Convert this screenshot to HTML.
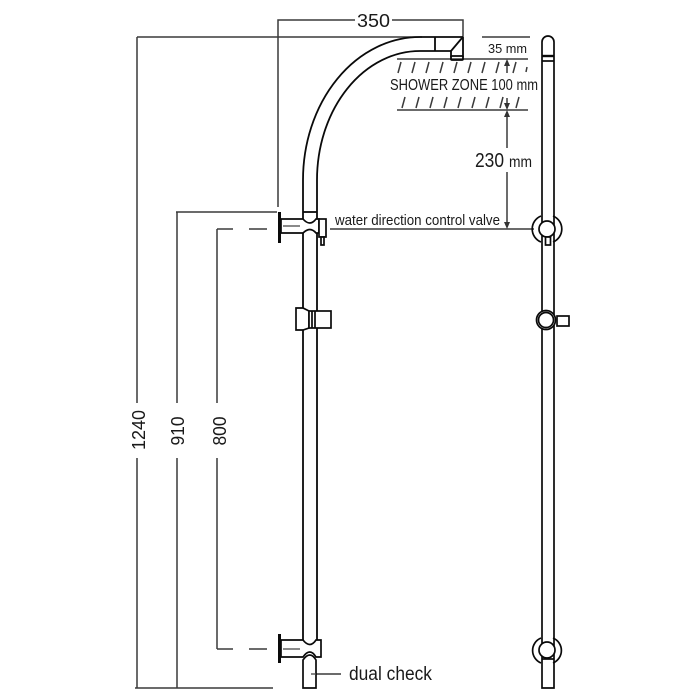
<!DOCTYPE html>
<html><head><meta charset="utf-8"><style>
html,body{margin:0;padding:0;background:#fff;}
svg{display:block;}
text{font-family:"Liberation Sans",sans-serif;fill:#1a1a1a;}
</style></head><body>
<svg width="700" height="700" viewBox="0 0 700 700" xmlns="http://www.w3.org/2000/svg">
<g stroke="#3a3a3a" stroke-width="1.5" fill="none">
  <!-- 350 dimension -->
  <polyline points="278,207 278,20 355,20"/>
  <polyline points="392,20 463,20 463,37"/>
  <!-- 1240 -->
  <line x1="137" y1="37" x2="422" y2="37"/>
  <line x1="137" y1="37" x2="137" y2="403"/>
  <line x1="137" y1="458" x2="137" y2="688"/>
  <line x1="135" y1="688" x2="273" y2="688"/>
  <!-- 910 -->
  <line x1="176" y1="212" x2="277" y2="212"/>
  <line x1="177" y1="212" x2="177" y2="403"/>
  <line x1="177" y1="458" x2="177" y2="688"/>
  <!-- 800 -->
  <line x1="217" y1="229" x2="217" y2="403"/>
  <line x1="217" y1="458" x2="217" y2="649"/>
  <line x1="217" y1="229" x2="233" y2="229"/>
  <line x1="249" y1="229" x2="267" y2="229"/>
  <line x1="217" y1="649" x2="233" y2="649"/>
  <line x1="249" y1="649" x2="267" y2="649"/>
  <!-- valve leader -->
  <line x1="330" y1="229" x2="534" y2="229"/>
  <!-- dual check leader -->
  <line x1="311" y1="674" x2="341" y2="674"/>
  <!-- shower zone lines -->
  <line x1="482" y1="37" x2="530" y2="37"/>
  <line x1="397" y1="59" x2="528" y2="59"/>
  <line x1="397" y1="110" x2="528" y2="110"/>
  <!-- hatches upper -->
  <line x1="398" y1="73" x2="401" y2="62"/>
  <line x1="412" y1="73" x2="415" y2="62"/>
  <line x1="426" y1="73" x2="429" y2="62"/>
  <line x1="440" y1="73" x2="443" y2="62"/>
  <line x1="454" y1="73" x2="457" y2="62"/>
  <line x1="468" y1="73" x2="471" y2="62"/>
  <line x1="482" y1="73" x2="485" y2="62"/>
  <line x1="496" y1="73" x2="499" y2="62"/>
  <line x1="513" y1="73" x2="516" y2="62"/>
  <line x1="526" y1="72" x2="527" y2="67"/>
  <!-- hatches lower -->
  <line x1="402" y1="108" x2="405" y2="97"/>
  <line x1="416" y1="108" x2="419" y2="97"/>
  <line x1="430" y1="108" x2="433" y2="97"/>
  <line x1="444" y1="108" x2="447" y2="97"/>
  <line x1="458" y1="108" x2="461" y2="97"/>
  <line x1="472" y1="108" x2="475" y2="97"/>
  <line x1="486" y1="108" x2="489" y2="97"/>
  <line x1="500" y1="108" x2="503" y2="97"/>
  <line x1="516" y1="108" x2="519" y2="97"/>
  <!-- arrows stems -->
  <line x1="507" y1="62" x2="507" y2="73"/>
  <line x1="507" y1="98" x2="507" y2="108"/>
  <line x1="507" y1="112" x2="507" y2="148"/>
  <line x1="507" y1="172" x2="507" y2="226"/>
</g>
<g fill="#333" stroke="none">
  <polygon points="507,59 504,66 510,66"/>
  <polygon points="507,110 504,103 510,103"/>
  <polygon points="507,110 504,117 510,117"/>
  <polygon points="507,229 504,222 510,222"/>
</g>

<!-- main shower pipe -->
<g stroke="#0a0a0a" stroke-width="1.8" fill="none">
  <path d="M463 37 L420 37 A117 143 0 0 0 303 180 L303 640"/>
  <path d="M435 51 L420 51 A103 129 0 0 0 317 180 L317 640"/>
  <line x1="303" y1="212" x2="317" y2="212"/>
  <!-- head -->
  <line x1="435" y1="37" x2="435" y2="51"/>
  <polyline points="463,37 463,57"/>
  <line x1="462" y1="38" x2="451" y2="51"/>
  <polyline points="435,51 451,51 451,57"/>
  <rect x="451" y="56" width="12" height="4" rx="1"/>
</g>

<!-- top valve -->
<g stroke="#0a0a0a" stroke-width="1.7" fill="#fff">
  <path d="M281 219 L303 219 Q310 227 316 219 L319 219 L319 233 L316 233 Q310 226 303 233 L281 233 Z"/>
  <rect x="319" y="219" width="7" height="18"/>
  <rect x="321" y="237" width="3" height="8"/>
</g>
<line x1="283" y1="226" x2="300" y2="226" stroke="#444" stroke-width="1.3"/>
<line x1="279.5" y1="212" x2="279.5" y2="243" stroke="#0a0a0a" stroke-width="3"/>

<!-- slider -->
<g stroke="#0a0a0a" stroke-width="1.7" fill="#fff">
  <path d="M296 308 L303 308 L309 311 L309 328 L303 330 L296 330 Z"/>
  <rect x="309" y="311" width="22" height="17"/>
  <line x1="312" y1="311" x2="312" y2="328"/>
  <line x1="315" y1="311" x2="315" y2="328"/>
</g>

<!-- bottom valve -->
<g stroke="#0a0a0a" stroke-width="1.7" fill="#fff">
  <path d="M281 640 L303 640 Q310 649 316 640 L321 640 L321 657 L316 657 Q310 647 303 657 L281 657 Z"/>
  <path d="M303 688 L303 660 Q310 650 316 660 L316 688 Z"/>
</g>
<line x1="283" y1="649" x2="300" y2="649" stroke="#444" stroke-width="1.3"/>
<line x1="311" y1="674" x2="316" y2="674" stroke="#444" stroke-width="1.3"/>
<line x1="279.5" y1="634" x2="279.5" y2="663" stroke="#0a0a0a" stroke-width="3"/>

<!-- right elevation -->
<g stroke="#0a0a0a" stroke-width="1.7" fill="none">
  <path d="M542 688 L542 42 A6 6 0 0 1 554 42 L554 688 Z" fill="#fff"/>
  <line x1="542" y1="56" x2="554" y2="56" stroke-width="2.4"/>
  <line x1="542" y1="61" x2="554" y2="61"/>
  <!-- top ring -->
  <path d="M541 216 A14 14 0 0 0 541 242"/>
  <path d="M553 216 A14 14 0 0 1 553 242"/>
  <circle cx="547" cy="229" r="8" fill="#fff"/>
  <rect x="545.5" y="237" width="5" height="8" fill="#fff"/>
  <!-- middle -->
  <circle cx="546" cy="320" r="9.5" fill="#fff"/>
  <circle cx="546" cy="320" r="7.5"/>
  <rect x="557" y="316" width="12" height="10" fill="#fff"/>
  <!-- bottom ring -->
  <path d="M541 638 A13.5 13.5 0 0 0 541 663"/>
  <path d="M553 638 A13.5 13.5 0 0 1 553 663"/>
  <circle cx="547" cy="650" r="8" fill="#fff"/>
  <line x1="542" y1="659" x2="554" y2="659"/>
</g>

<!-- texts -->
<text x="357" y="27" font-size="18" textLength="33" lengthAdjust="spacingAndGlyphs">350</text>
<text x="488" y="53" font-size="13" textLength="39" lengthAdjust="spacingAndGlyphs">35 mm</text>
<text x="390" y="90" font-size="16" textLength="148" lengthAdjust="spacingAndGlyphs">SHOWER ZONE 100 mm</text>
<text x="475" y="167" font-size="20" textLength="29" lengthAdjust="spacingAndGlyphs">230</text>
<text x="509" y="167" font-size="16" textLength="23" lengthAdjust="spacingAndGlyphs">mm</text>
<text x="335" y="225" font-size="15" textLength="165" lengthAdjust="spacingAndGlyphs">water direction control valve</text>
<text x="349" y="680" font-size="19" textLength="83" lengthAdjust="spacingAndGlyphs">dual check</text>
<text transform="translate(145,430) rotate(-90)" font-size="18" text-anchor="middle" textLength="40" lengthAdjust="spacingAndGlyphs">1240</text>
<text transform="translate(184,431) rotate(-90)" font-size="18" text-anchor="middle" textLength="29" lengthAdjust="spacingAndGlyphs">910</text>
<text transform="translate(226,431) rotate(-90)" font-size="18" text-anchor="middle" textLength="29" lengthAdjust="spacingAndGlyphs">800</text>
</svg>
</body></html>
